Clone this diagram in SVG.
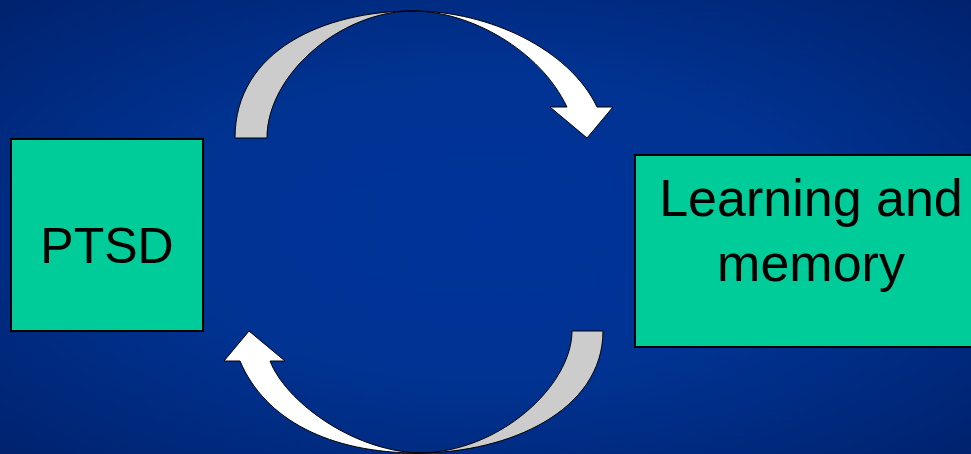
<svg xmlns="http://www.w3.org/2000/svg" width="971" height="454" viewBox="0 0 971 454">
<defs>
<radialGradient id="bg" cx="0.5" cy="0.5" r="0.75">
<stop offset="0" stop-color="#003399"/>
<stop offset="0.45" stop-color="#003392"/>
<stop offset="1" stop-color="#00206a"/>
</radialGradient>
</defs>
<style>
.box{fill:#00CC99;stroke:#000;stroke-width:2}
.lbl{font-family:"Liberation Sans",Arial,sans-serif;fill:#000;text-anchor:middle}
.gray{fill:#CCCCCC;stroke:#000;stroke-width:1;stroke-linejoin:round}
.white{fill:#FFFFFF;stroke:#000;stroke-width:1;stroke-linejoin:miter}
</style>
<rect x="0" y="0" width="971" height="454" fill="url(#bg)"/>
<g id="connectors">
<g id="top-arrow">
<path class="gray" d="M235,138 C235,50 325,11 413,11 C340,11 267,75 267,138 Z"/>
<path class="white" d="M413,11 C490,11 570,50 597,107 L613,107 L587,138 L550,107 L567,107 C540,50 470,11 413,11 Z"/>
</g>
<g id="bottom-arrow">
<path class="gray" d="M603,331 C603,410 510,453 418,453 C500,453 572,385 572,331 Z"/>
<path class="white" d="M418,453 C330,453 265,420 240,361 L224,361 L249,331 L285,361 L270,361 C285,400 350,450 418,453 Z"/>
</g>
</g>
<g id="ptsd">
<rect class="box" x="11" y="139" width="192" height="192"/>
<text class="lbl" x="107" y="263" font-size="50">PTSD</text>
</g>
<g id="learning">
<rect class="box" x="635" y="155" width="345" height="192"/>
<text class="lbl" x="811" y="216" font-size="52">Learning and</text>
<text class="lbl" x="811" y="281" font-size="52">memory</text>
</g>
</svg>
